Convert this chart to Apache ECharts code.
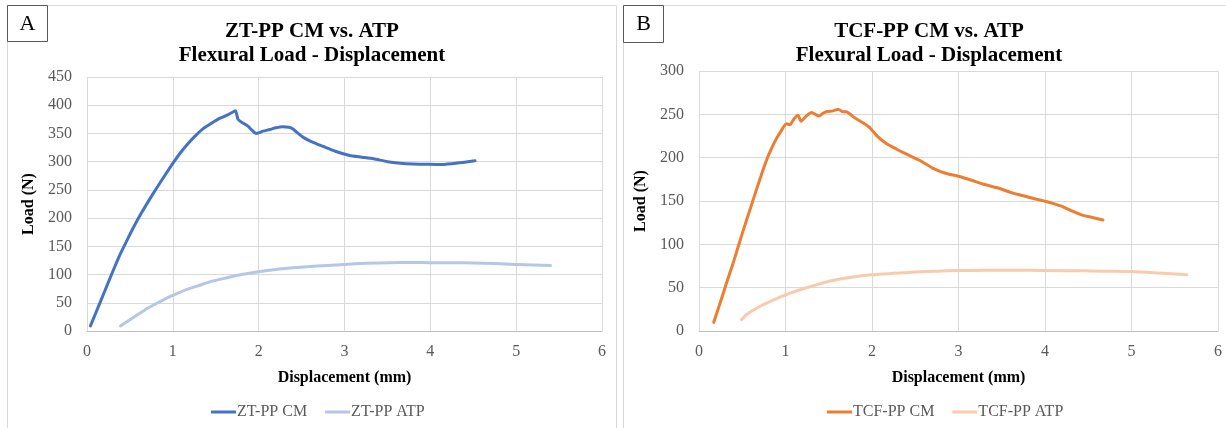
<!DOCTYPE html>
<html>
<head>
<meta charset="utf-8">
<script src="https://cdn.jsdelivr.net/npm/echarts@6/dist/echarts.min.js"></script>
<style>html,body{margin:0;padding:0;background:#fff;}#c{width:1226px;height:428px;}</style>
</head>
<body>
<div id="c"></div>
<script>
// ---- data (x: displacement mm, y: load N) ----
const xTicks = [0, 1, 2, 3, 4, 5, 6];
const yTicksA = [0, 50, 100, 150, 200, 250, 300, 350, 400, 450];
const yTicksB = [0, 50, 100, 150, 200, 250, 300];

const ztppCM = [[0.04,9],[0.10,31],[0.17,57],[0.24,83],[0.31,109],[0.39,137],[0.47,162],[0.55,186],[0.63,208],[0.72,231],[0.81,253],[0.90,274],[1.0,297],[1.08,314],[1.16,329],[1.25,344],[1.35,358],[1.45,368],[1.55,377],[1.64,383],[1.70,388],[1.73,390],[1.76,375],[1.80,370],[1.875,363],[1.92,356],[1.97,350],[2.0,351],[2.05,354],[2.13,357],[2.20,360],[2.28,362],[2.35,361],[2.40,358],[2.46,350],[2.52,343],[2.62,335],[2.75,327],[2.9,318],[3.06,311],[3.2,308],[3.34,305],[3.5,300],[3.65,297.3],[3.8,296],[3.95,295.5],[4.11,295],[4.25,296.5],[4.4,299],[4.52,301.5]];
const ztppATP = [[0.39,9],[0.5,20],[0.6,30],[0.7,40],[0.8,48],[0.9,56],[1.0,63],[1.15,73],[1.31,81],[1.45,88],[1.62,94],[1.8,100],[2.0,105],[2.2,109],[2.4,112],[2.56,114],[2.8,116],[3.0,118],[3.25,120],[3.53,121],[3.8,121.5],[4.0,121],[4.25,121],[4.5,120.5],[4.75,119.5],[5.0,118],[5.2,117],[5.4,116]];
const tcfppCM = [[0.17,10],[0.25,34],[0.32,56],[0.40,80],[0.47,103],[0.55,128],[0.625,151],[0.70,174],[0.78,197],[0.84,211],[0.895,222],[0.95,231],[1.01,239],[1.05,238],[1.10,245],[1.145,249],[1.18,242],[1.24,248],[1.30,252],[1.39,248],[1.43,251],[1.47,253],[1.55,254],[1.61,256],[1.66,253],[1.70,253],[1.80,246],[1.90,240],[1.97,235],[2.07,224],[2.17,216],[2.28,210],[2.40,204],[2.55,197],[2.70,188],[2.85,182],[3.0,178.6],[3.15,174],[3.3,169],[3.46,165],[3.6,160],[3.75,156],[3.9,152],[4.0,149.7],[4.1,147],[4.19,144],[4.3,139],[4.42,134],[4.55,131],[4.67,128]];
const tcfppATP = [[0.49,13],[0.55,19],[0.66,26],[0.8,33],[1.0,41.7],[1.15,47],[1.28,51],[1.45,56],[1.63,60],[1.8,62.5],[2.0,64.8],[2.25,66.5],[2.5,68],[2.75,69],[3.0,69.8],[3.3,70],[3.66,70.2],[4.0,69.8],[4.42,69.4],[4.7,69],[5.0,68.6],[5.3,67],[5.64,65]];

const seriesNames = ['ZT-PP CM', 'ZT-PP ATP', 'TCF-PP CM', 'TCF-PP ATP'];
const panelTitles = ['ZT-PP CM vs. ATP\nFlexural Load - Displacement', 'TCF-PP CM vs. ATP\nFlexural Load - Displacement'];
const panelLabels = ['A', 'B'];
const xName = 'Displacement (mm)';
const yName = 'Load (N)';

// ---- styling ----
const FONT = "'Times New Roman', 'Liberation Serif', serif";
const colors = ['#4472C4', '#B4C7E7', '#ED7D31', '#F8CBAD'];

function xAxisCfg(gi) {
  return {
    gridIndex: gi, type: 'value', min: xTicks[0], max: xTicks[xTicks.length - 1], interval: 1,
    name: xName, nameLocation: 'middle', nameGap: 39,
    nameTextStyle: { fontFamily: FONT, fontSize: 16, fontWeight: 'bold', color: '#000' },
    axisLine: { show: true, lineStyle: { color: '#bfbfbf', width: 1 } },
    axisTick: { show: false },
    axisLabel: { fontFamily: FONT, fontSize: 16, color: '#595959', margin: 13 },
    splitLine: { show: true, lineStyle: { color: '#d9d9d9', width: 1 } }
  };
}
function yAxisCfg(gi, ticks) {
  return {
    gridIndex: gi, type: 'value', min: ticks[0], max: ticks[ticks.length - 1], interval: 50,
    name: yName, nameLocation: 'middle', nameGap: 50, nameRotate: 90,
    nameTextStyle: { fontFamily: FONT, fontSize: 16, fontWeight: 'bold', color: '#000' },
    axisLine: { show: false }, axisTick: { show: false },
    axisLabel: { fontFamily: FONT, fontSize: 16, color: '#595959', margin: 15 },
    splitLine: { show: true, lineStyle: { color: '#d9d9d9', width: 1 } }
  };
}
function lineSeries(name, data, gi, color) {
  return {
    name, type: 'line', xAxisIndex: gi, yAxisIndex: gi, data,
    showSymbol: false, symbol: 'none', smooth: 0.2, animation: false,
    lineStyle: { color, width: 3, cap: 'round', join: 'round' }, itemStyle: { color }
  };
}

const chart = echarts.init(document.getElementById('c'), null, { renderer: 'canvas' });
chart.setOption({
  animation: false,
  backgroundColor: '#fff',
  title: [
    { text: panelTitles[0], left: 312, top: 20, textAlign: 'center', padding: 0,
      textStyle: { fontFamily: FONT, fontSize: 21, fontWeight: 'bold', color: '#000', lineHeight: 24 } },
    { text: panelTitles[1], left: 929, top: 20, textAlign: 'center', padding: 0,
      textStyle: { fontFamily: FONT, fontSize: 21, fontWeight: 'bold', color: '#000', lineHeight: 24 } }
  ],
  grid: [
    { left: 87, top: 77, width: 515, height: 254 },
    { left: 699, top: 71, width: 519, height: 260 }
  ],
  xAxis: [xAxisCfg(0), xAxisCfg(1)],
  yAxis: [yAxisCfg(0, yTicksA), yAxisCfg(1, yTicksB)],
  legend: [
    { data: [seriesNames[0], seriesNames[1]], left: 206, top: 399, icon: 'rect', itemWidth: 25, itemHeight: 3, itemGap: 18,
      textStyle: { fontFamily: FONT, fontSize: 16, color: '#595959', padding: [0, 0, 0, -4] } },
    { data: [seriesNames[2], seriesNames[3]], left: 822, top: 399, icon: 'rect', itemWidth: 25, itemHeight: 3, itemGap: 18,
      textStyle: { fontFamily: FONT, fontSize: 16, color: '#595959', padding: [0, 0, 0, -4] } }
  ],
  series: [
    lineSeries(seriesNames[0], ztppCM, 0, colors[0]),
    lineSeries(seriesNames[1], ztppATP, 0, colors[1]),
    lineSeries(seriesNames[2], tcfppCM, 1, colors[2]),
    lineSeries(seriesNames[3], tcfppATP, 1, colors[3])
  ],
  graphic: [
    { type: 'rect', shape: { x: 7.5, y: 5.5, width: 609, height: 440 }, style: { fill: 'none', stroke: '#d9d9d9', lineWidth: 1 }, silent: true, z: -1 },
    { type: 'rect', shape: { x: 623.5, y: 5.5, width: 610, height: 440 }, style: { fill: 'none', stroke: '#d9d9d9', lineWidth: 1 }, silent: true, z: -1 },
    { type: 'rect', shape: { x: 7.5, y: 5.5, width: 40, height: 36 }, style: { fill: '#fff', stroke: '#595959', lineWidth: 1 }, silent: true, z: 10 },
    { type: 'text', x: 27.5, y: 24, style: { text: panelLabels[0], fontFamily: FONT, fontSize: 22, fill: '#000', align: 'center', verticalAlign: 'middle' }, silent: true, z: 11 },
    { type: 'rect', shape: { x: 623.5, y: 5.5, width: 40, height: 37 }, style: { fill: '#fff', stroke: '#595959', lineWidth: 1 }, silent: true, z: 10 },
    { type: 'text', x: 643.5, y: 24.5, style: { text: panelLabels[1], fontFamily: FONT, fontSize: 22, fill: '#000', align: 'center', verticalAlign: 'middle' }, silent: true, z: 11 }
  ]
});
</script>
</body>
</html>
